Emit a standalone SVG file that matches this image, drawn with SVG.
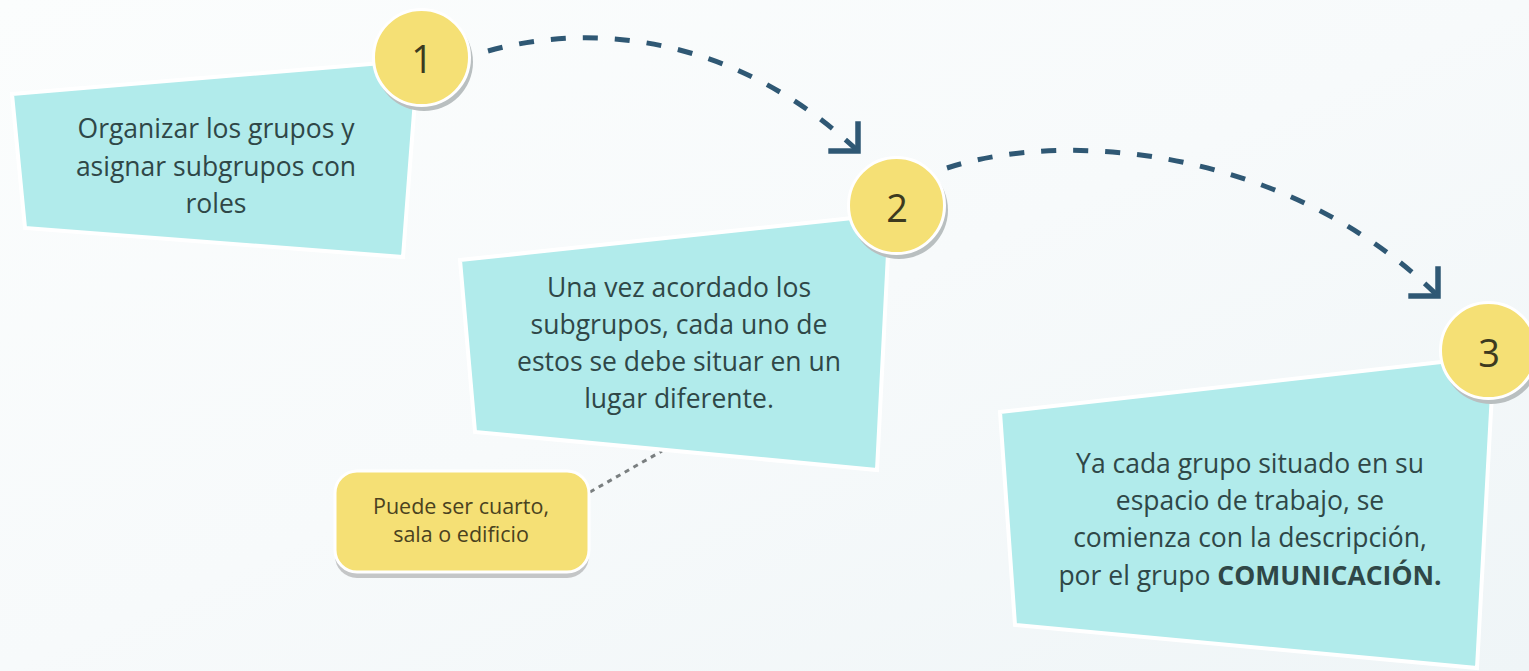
<svg xmlns="http://www.w3.org/2000/svg" width="1529" height="671" viewBox="0 0 1529 671">
<defs>
<linearGradient id="bg" x1="0" y1="0" x2="1" y2="1">
<stop offset="0" stop-color="#fbfdfd"/>
<stop offset="0.5" stop-color="#f7fafb"/>
<stop offset="1" stop-color="#eff5f7"/>
</linearGradient>
<marker id="chev" markerUnits="userSpaceOnUse" markerWidth="40" markerHeight="40" viewBox="-30 -30 40 40" refX="0" refY="0" orient="45" overflow="visible">
<path d="M-21,-21 L0,0 L-21,21" fill="none" stroke="#2f5874" stroke-width="5.5" stroke-linecap="butt" stroke-linejoin="miter"/>
</marker>
<style>
.box{fill:#b1ebeb;stroke:#ffffff;stroke-width:4;stroke-linejoin:miter}
.num{fill:#f5e075;stroke:#ffffff;stroke-width:3}
.shadow{fill:#b9bfc0}
.t{font-family:"Open Sans","Liberation Sans",sans-serif;font-size:26.5px;fill:#2f4747;text-anchor:middle}
.n{font-family:"Open Sans","Liberation Sans",sans-serif;font-size:38px;fill:#3d3a1f;text-anchor:middle}
.c{font-family:"Open Sans","Liberation Sans",sans-serif;font-size:21.5px;fill:#4a4220;text-anchor:middle}
.arc{fill:none;stroke:#2f5874;stroke-width:5;stroke-dasharray:15 17}
</style>
</defs>
<rect x="0" y="0" width="1529" height="671" fill="url(#bg)"/>

<g id="connectors">
<path class="arc" d="M488,51 C600,20 740,40 858,151" marker-end="url(#chev)"/>
<path class="arc" d="M947,168 C1070,128 1290,150 1438,296" marker-end="url(#chev)"/>
<path d="M590,492 L662,451" fill="none" stroke="#7a7f80" stroke-width="3" stroke-dasharray="5 5"/>
</g>

<g id="step1">
<polygon class="box" points="12,94 418,60 403,257 25,228"/>
<text class="t" x="216" y="138">Organizar los grupos y</text>
<text class="t" x="216" y="176">asignar subgrupos con</text>
<text class="t" x="216" y="213">roles</text>
<circle class="shadow" cx="424" cy="62" r="49"/>
<circle class="num" cx="421.5" cy="57.5" r="48"/>
<text class="n" x="422" y="73">1</text>
</g>

<g id="step2">
<polygon class="box" points="460,260 890,214 877,470 475,432"/>
<text class="t" x="679" y="297">Una vez acordado los</text>
<text class="t" x="679" y="334">subgrupos, cada uno de</text>
<text class="t" x="679" y="371">estos se debe situar en un</text>
<text class="t" x="679" y="408">lugar diferente.</text>
<circle class="shadow" cx="899" cy="210" r="49"/>
<circle class="num" cx="896.5" cy="205.5" r="48"/>
<text class="n" x="897" y="222">2</text>
</g>

<g id="step3">
<polygon class="box" points="1000,412 1494,356 1477,668 1015,625"/>
<text class="t" x="1250" y="473">Ya cada grupo situado en su</text>
<text class="t" x="1250" y="510">espacio de trabajo, se</text>
<text class="t" x="1250" y="547">comienza con la descripción,</text>
<text class="t" x="1250" y="585">por el grupo <tspan font-weight="bold">COMUNICACIÓN.</tspan></text>
<circle class="shadow" cx="1491" cy="355" r="49"/>
<circle class="num" cx="1488.5" cy="350.5" r="48"/>
<text class="n" x="1489" y="367">3</text>
</g>

<g id="note">
<rect x="335" y="477" width="254" height="101" rx="22" fill="#c4c6c7"/>
<rect x="335" y="471" width="254" height="101" rx="22" fill="#f5e075" stroke="#ffffff" stroke-width="3"/>
<text class="c" x="461" y="514">Puede ser cuarto,</text>
<text class="c" x="461" y="542">sala o edificio</text>
</g>
</svg>
